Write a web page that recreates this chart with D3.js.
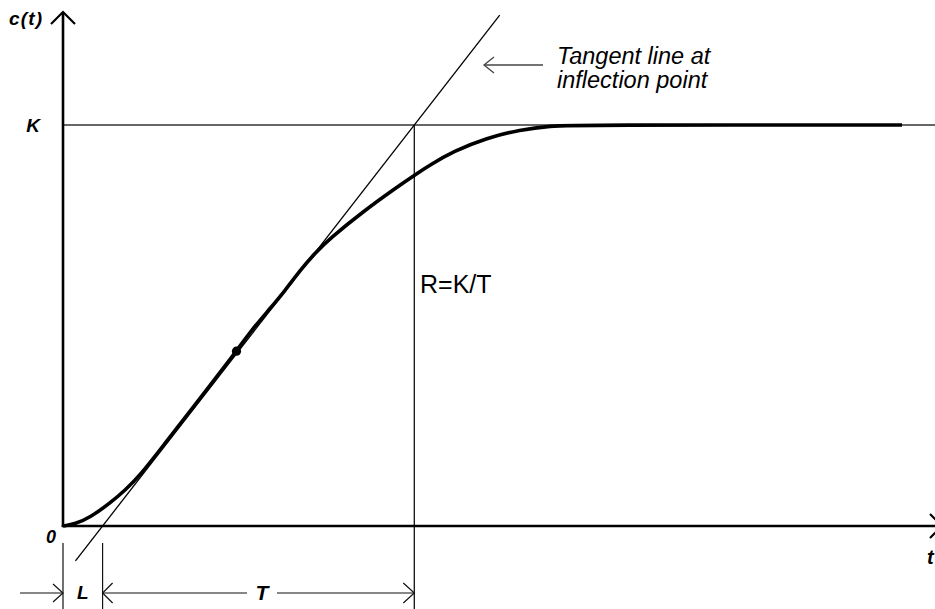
<!DOCTYPE html>
<html><head><meta charset="utf-8">
<script src="https://cdn.jsdelivr.net/npm/d3@7"></script>
<style>html,body{margin:0;padding:0;background:#fff;}svg{display:block;font-family:"Liberation Sans",Arial,sans-serif;}</style>
</head><body>
<svg id="chart" width="935" height="609"></svg>
<script>
// ---- data ----
const curveT = [0, 0.138, 0.31, 0.54, 0.713, 0.885, 1.172, 1.46, 1.994, 2.149, 2.379, 2.552, 2.724, 2.897, 3.069, 3.448, 3.839, 4.034, 4.218, 4.483, 4.874, 5.253, 5.598, 5.943, 9.644];
const curveC = [0, 0.005, 0.021, 0.057, 0.089, 0.126, 0.206, 0.286, 0.436, 0.484, 0.542, 0.587, 0.637, 0.681, 0.717, 0.784, 0.845, 0.874, 0.900, 0.934, 0.968, 0.988, 0.998, 1, 1];
const inflectionT = [1.994];
const inflectionC = [0.436];
const K = 1;
const L = 0.455;
const T = 3.583;
const tangentC = [-0.087, 1.274];
const labels = { yAxis: "c(t)", xAxis: "t", K: "K", zero: "0", L: "L", T: "T", rate: "R=K/T" };
const noteLines = ["Tangent line at", "inflection point"];

// ---- scales ----
const x = d3.scaleLinear().domain([0, 10]).range([63, 933]);
const y = d3.scaleLinear().domain([0, 1]).range([526, 125]);
const svg = d3.select("#chart");

function openArrow(g, tipX, tipY, dir, len, half, color, w) {
  let p;
  if (dir === "up") p = [[tipX - half, tipY + len], [tipX, tipY], [tipX + half, tipY + len]];
  else if (dir === "right") p = [[tipX - len, tipY - half], [tipX, tipY], [tipX - len, tipY + half]];
  else p = [[tipX + len, tipY - half], [tipX, tipY], [tipX + len, tipY + half]];
  g.append("path").attr("d", d3.line()(p)).attr("fill", "none")
    .attr("stroke", color).attr("stroke-width", w);
}

// K horizontal line
svg.append("line").attr("x1", x(0)).attr("x2", 935).attr("y1", y(K)).attr("y2", y(K))
  .attr("stroke", "#333").attr("stroke-width", 1.3);

// vertical line at L+T
svg.append("line").attr("x1", x(L + T)).attr("x2", x(L + T)).attr("y1", y(K)).attr("y2", 609)
  .attr("stroke", "#111").attr("stroke-width", 1.3);

// tangent line
svg.append("line")
  .attr("x1", x(L + tangentC[0] * T)).attr("y1", y(tangentC[0]))
  .attr("x2", x(L + tangentC[1] * T)).attr("y2", y(tangentC[1]))
  .attr("stroke", "#000").attr("stroke-width", 1.3);

// axes
svg.append("line").attr("x1", x(0)).attr("x2", x(0)).attr("y1", y(0) + 1).attr("y2", 12)
  .attr("stroke", "#000").attr("stroke-width", 2.6);
openArrow(svg, x(0), 12, "up", 12, 12, "#000", 2.2);
svg.append("line").attr("x1", x(0) - 1.3).attr("x2", 942).attr("y1", y(0)).attr("y2", y(0))
  .attr("stroke", "#000").attr("stroke-width", 2.6);
openArrow(svg, 942, y(0), "right", 12, 12, "#000", 2.2);

// response curve
const pts = curveT.map((t, i) => [x(t), y(curveC[i])]);
svg.append("path").attr("d", d3.line().curve(d3.curveBasis)(pts))
  .attr("fill", "none").attr("stroke", "#000").attr("stroke-width", 3.6)
  .attr("stroke-linejoin", "round").attr("stroke-linecap", "butt");

// inflection dot
svg.selectAll("circle.dot").data(inflectionT).enter().append("circle")
  .attr("cx", d => x(d)).attr("cy", (d, i) => y(inflectionC[i])).attr("r", 4.6).attr("fill", "#000");

// dimension lines
const dimY = y(0) + 67;
[x(0), x(L)].forEach(xx => {
  svg.append("line").attr("x1", xx).attr("x2", xx).attr("y1", y(0) + 17).attr("y2", 609)
    .attr("stroke", "#111").attr("stroke-width", 1.2);
});
svg.append("line").attr("x1", 20).attr("x2", x(0)).attr("y1", dimY).attr("y2", dimY)
  .attr("stroke", "#111").attr("stroke-width", 1.2);
openArrow(svg, x(0), dimY, "right", 10, 9, "#111", 1.2);
svg.append("line").attr("x1", x(L)).attr("x2", 247).attr("y1", dimY).attr("y2", dimY)
  .attr("stroke", "#111").attr("stroke-width", 1.2);
openArrow(svg, x(L), dimY, "left", 10, 10, "#111", 1.2);
svg.append("line").attr("x1", 277).attr("x2", x(L + T)).attr("y1", dimY).attr("y2", dimY)
  .attr("stroke", "#111").attr("stroke-width", 1.2);
openArrow(svg, x(L + T), dimY, "right", 11, 10, "#111", 1.2);

// annotation arrow
svg.append("line").attr("x1", 543).attr("x2", 484).attr("y1", 65).attr("y2", 65)
  .attr("stroke", "#444").attr("stroke-width", 1.3);
openArrow(svg, 484, 65, "left", 10, 8, "#444", 1.3);

// labels
const bi = (s) => s.attr("font-weight", "bold").attr("font-style", "italic").attr("fill", "#000");
bi(svg.append("text").attr("x", 9).attr("y", 25).attr("font-size", 19).attr("letter-spacing", 1.2).text(labels.yAxis));
bi(svg.append("text").attr("x", x(0) - 23).attr("y", y(K) + 7).attr("text-anchor", "end").attr("font-size", 19).text(labels.K));
bi(svg.append("text").attr("x", x(0) - 7).attr("y", y(0) + 17).attr("text-anchor", "end").attr("font-size", 18).text(labels.zero));
bi(svg.append("text").attr("x", 927).attr("y", 564).attr("font-size", 20).text(labels.xAxis));
bi(svg.append("text").attr("x", (x(0) + x(L)) / 2).attr("y", dimY + 6).attr("text-anchor", "middle").attr("font-size", 19).text(labels.L));
bi(svg.append("text").attr("x", 262).attr("y", dimY + 7).attr("text-anchor", "middle").attr("font-size", 21).text(labels.T));
svg.append("text").attr("x", 420).attr("y", 293).attr("font-size", 25).attr("fill", "#000").text(labels.rate);
noteLines.forEach((s, i) => {
  svg.append("text").attr("x", 557).attr("y", 64 + i * 24).attr("font-size", 23.5)
    .attr("font-style", "italic").attr("fill", "#000").text(s);
});
</script>
</body></html>
